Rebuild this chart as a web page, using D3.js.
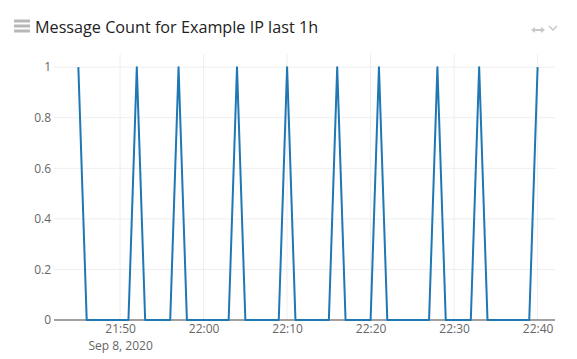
<!DOCTYPE html>
<html>
<head>
<meta charset="utf-8">
<script src="https://cdn.jsdelivr.net/npm/d3@7"></script>
<style>
  body { margin: 0; background: #fff; font-family: "Open Sans", sans-serif; }
  svg { display: block; }
</style>
</head>
<body>
<svg id="chart" width="577" height="359"></svg>
<script>
// Message count per minute, last 1h (Sep 8, 2020)
const times = [
  "21:45", "21:46", "21:47", "21:48", "21:49", "21:50", "21:51", "21:52", "21:53", "21:54",
  "21:55", "21:56", "21:57", "21:58", "21:59", "22:00", "22:01", "22:02", "22:03", "22:04",
  "22:05", "22:06", "22:07", "22:08", "22:09", "22:10", "22:11", "22:12", "22:13", "22:14",
  "22:15", "22:16", "22:17", "22:18", "22:19", "22:20", "22:21", "22:22", "22:23", "22:24",
  "22:25", "22:26", "22:27", "22:28", "22:29", "22:30", "22:31", "22:32", "22:33", "22:34",
  "22:35", "22:36", "22:37", "22:38", "22:39", "22:40"
];
const counts = [
  1, 0, 0, 0, 0, 0, 0, 1, 0, 0,
  0, 0, 1, 0, 0, 0, 0, 0, 0, 1,
  0, 0, 0, 0, 0, 1, 0, 0, 0, 0,
  0, 1, 0, 0, 0, 0, 1, 0, 0, 0,
  0, 0, 0, 1, 0, 0, 0, 0, 1, 0,
  0, 0, 0, 0, 0, 1
];
const yTicks = [0, 0.2, 0.4, 0.6, 0.8, 1];
const xTicks = ["21:50", "22:00", "22:10", "22:20", "22:30", "22:40"];
const dateLabel = "Sep 8, 2020";
const title = "Message Count for Example IP last 1h";

const parseTime = d3.timeParse("%Y-%m-%d %H:%M:%S");
const toDate = s => parseTime("2020-09-08 " + (s.length === 5 ? s + ":00" : s));

const data = times.map((t, i) => ({ t: toDate(t), v: counts[i] }));

const svg = d3.select("#chart");
const plot = { left: 54, right: 555, top: 54, bottom: 320 };

// window is one hour
const x = d3.scaleTime()
    .domain([toDate("21:42:05"), toDate("22:42:05")])
    .range([plot.left, plot.right]);
const y = d3.scaleLinear()
    .domain([0, 1.052])
    .range([plot.bottom, plot.top]);

// title + panel icons
const head = svg.append("g");
[21, 26, 31].forEach(yy => {
    head.append("rect").attr("x", 14).attr("y", yy - 1.5).attr("width", 16).attr("height", 3)
        .attr("fill", "#b8b8b8");
});
head.append("text")
    .attr("x", 35).attr("y", 33)
    .attr("font-size", 16.2).attr("fill", "#222")
    .text(title);
// arrows icon
head.append("path")
    .attr("d", "M531,30 L535,27 L535,29 L541,29 L541,27 L545,30 L541,33 L541,31 L535,31 L535,33 Z")
    .attr("fill", "#c8c8c8");
head.append("path")
    .attr("d", "M549,26 L553,30 L557,26")
    .attr("fill", "none").attr("stroke", "#c8c8c8").attr("stroke-width", 1.5);

// grid
const grid = svg.append("g");
grid.selectAll(".vg").data(xTicks).join("line")
    .attr("x1", d => x(toDate(d))).attr("x2", d => x(toDate(d)))
    .attr("y1", plot.top).attr("y2", plot.bottom)
    .attr("stroke", "#eee");
grid.selectAll(".hg").data(yTicks.filter(d => d > 0)).join("line")
    .attr("x1", plot.left).attr("x2", plot.right)
    .attr("y1", d => y(d)).attr("y2", d => y(d))
    .attr("stroke", "#eee");

// axes
const xAxis = svg.append("g")
    .attr("transform", `translate(0,${plot.bottom})`)
    .call(d3.axisBottom(x).tickValues(xTicks.map(toDate)).tickFormat(d3.timeFormat("%H:%M")).tickSize(0).tickPadding(4));
xAxis.select(".domain").remove();
xAxis.selectAll("text").attr("font-family", "Open Sans").attr("font-size", 12).attr("fill", "#666");
xAxis.selectAll(".tick").filter((d, i) => i === 0).append("text")
    .attr("y", 21).attr("dy", "0.71em").attr("fill", "#666")
    .attr("font-family", "Open Sans").attr("font-size", 12)
    .text(dateLabel);

const yAxis = svg.append("g")
    .attr("transform", `translate(${plot.left},0)`)
    .call(d3.axisLeft(y).tickValues(yTicks).tickFormat(d3.format("~g")).tickSize(0).tickPadding(3));
yAxis.select(".domain").remove();
yAxis.selectAll("text").attr("font-family", "Open Sans").attr("font-size", 12).attr("fill", "#666");

svg.append("line")
    .attr("x1", plot.left).attr("x2", plot.right)
    .attr("y1", y(0)).attr("y2", y(0))
    .attr("stroke", "#444").attr("stroke-width", 1.2);

// series
svg.append("path")
    .datum(data)
    .attr("fill", "none")
    .attr("stroke", "#1f77b4")
    .attr("stroke-width", 2)
    .attr("stroke-linejoin", "round")
    .attr("d", d3.line().x(d => x(d.t)).y(d => y(d.v)));
</script>
</body>
</html>
